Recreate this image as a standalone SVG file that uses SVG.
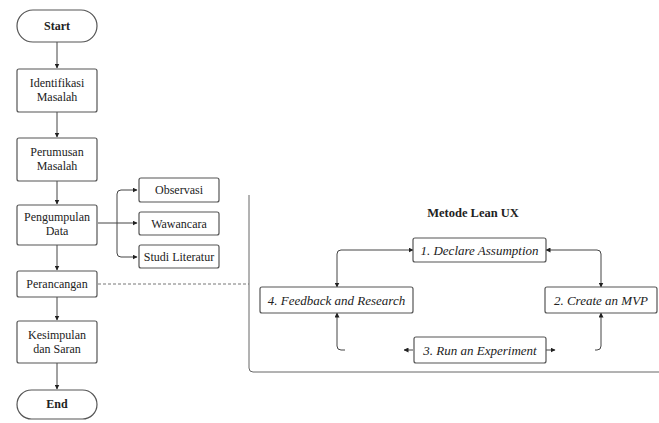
<svg xmlns="http://www.w3.org/2000/svg" width="659" height="423" viewBox="0 0 659 423">
<defs>
<style>
.box{fill:#fff;stroke:#555;stroke-width:1.2}
.t{font-family:"Liberation Serif","Times New Roman",serif;font-size:12px;fill:#222;text-anchor:middle}
.b{font-weight:bold}
.i{font-style:italic;font-size:13px}
.ti{font-size:12.5px}
.ln{fill:none;stroke:#444;stroke-width:1}
</style>
<marker id="ah" viewBox="0 0 10 10" refX="9" refY="5" markerWidth="5" markerHeight="5" orient="auto-start-reverse">
<path d="M0,0 L10,5 L0,10 z" fill="#222"/>
</marker>
</defs>
<rect width="659" height="423" fill="#fff"/>

<g id="connectors">
<line class="ln" x1="57" y1="42" x2="57" y2="68" marker-end="url(#ah)"/>
<line class="ln" x1="57" y1="112" x2="57" y2="137" marker-end="url(#ah)"/>
<line class="ln" x1="57" y1="181" x2="57" y2="204" marker-end="url(#ah)"/>
<line class="ln" x1="57" y1="245" x2="57" y2="270" marker-end="url(#ah)"/>
<line class="ln" x1="57" y1="297" x2="57" y2="320" marker-end="url(#ah)"/>
<line class="ln" x1="57" y1="363" x2="57" y2="389" marker-end="url(#ah)"/>
<line class="ln" x1="98" y1="223" x2="137" y2="223" marker-end="url(#ah)"/>
<path class="ln" d="M137,190 H121 Q117,190 117,194 V253 Q117,257 121,257 H137" marker-start="url(#ah)" marker-end="url(#ah)"/>
<line x1="98" y1="284" x2="249" y2="284" stroke="#777" stroke-width="1" stroke-dasharray="3,2"/>
<path d="M249,195 V368 Q249,372 253,372 H659" fill="none" stroke="#666" stroke-width="1"/>
<path class="ln" d="M337,287 V254 Q337,250 341,250 H413" marker-start="url(#ah)" marker-end="url(#ah)"/>
<path class="ln" d="M546,250 H597 Q601,250 601,254 V287" marker-start="url(#ah)" marker-end="url(#ah)"/>
<path class="ln" d="M337,313 V346 Q337,350 341,350 H345" marker-start="url(#ah)"/>
<line class="ln" x1="413" y1="350" x2="404" y2="350" marker-end="url(#ah)"/>
<line class="ln" x1="546" y1="350" x2="555" y2="350" marker-end="url(#ah)"/>
<path class="ln" d="M601,313 V346 Q601,350 597,350 H595" marker-start="url(#ah)"/>
</g>

<g id="start"><rect class="box" x="17" y="10" width="80" height="32" rx="16"/><text class="t b" x="57" y="30">Start</text></g>
<g id="identifikasi"><rect class="box" x="17" y="69" width="80" height="43" rx="2"/><text class="t" x="57" y="87">Identifikasi</text><text class="t" x="57" y="101">Masalah</text></g>
<g id="perumusan"><rect class="box" x="17" y="138" width="80" height="43" rx="2"/><text class="t" x="57" y="156">Perumusan</text><text class="t" x="57" y="170">Masalah</text></g>
<g id="pengumpulan"><rect class="box" x="17" y="205" width="80" height="40" rx="2"/><text class="t" x="57" y="221">Pengumpulan</text><text class="t" x="57" y="235">Data</text></g>
<g id="perancangan"><rect class="box" x="17" y="271" width="80" height="26" rx="2"/><text class="t" x="57" y="288">Perancangan</text></g>
<g id="kesimpulan"><rect class="box" x="17" y="321" width="80" height="42" rx="2"/><text class="t" x="57" y="339">Kesimpulan</text><text class="t" x="57" y="353">dan Saran</text></g>
<g id="end"><rect class="box" x="17" y="390" width="80" height="29" rx="14.5"/><text class="t b" x="57" y="408">End</text></g>

<g id="observasi"><rect class="box" x="139" y="178" width="80" height="24" rx="2"/><text class="t" x="179" y="194">Observasi</text></g>
<g id="wawancara"><rect class="box" x="139" y="212" width="80" height="23" rx="2"/><text class="t" x="179" y="228">Wawancara</text></g>
<g id="studi"><rect class="box" x="139" y="245" width="80" height="23" rx="2"/><text class="t" x="179" y="261">Studi Literatur</text></g>

<g id="title"><text class="t b ti" x="473" y="217">Metode Lean UX</text></g>
<g id="declare"><rect class="box" x="413" y="238" width="133" height="24" rx="2"/><text class="t i" x="479.5" y="254.5">1. Declare Assumption</text></g>
<g id="feedback"><rect class="box" x="260" y="287" width="153" height="26" rx="2"/><text class="t i" x="336.5" y="304.5">4. Feedback and Research</text></g>
<g id="mvp"><rect class="box" x="545" y="287" width="112" height="26" rx="2"/><text class="t i" x="601" y="304.5">2. Create an MVP</text></g>
<g id="run"><rect class="box" x="414" y="337" width="132" height="26" rx="2"/><text class="t i" x="480" y="354.5">3. Run an Experiment</text></g>
</svg>
